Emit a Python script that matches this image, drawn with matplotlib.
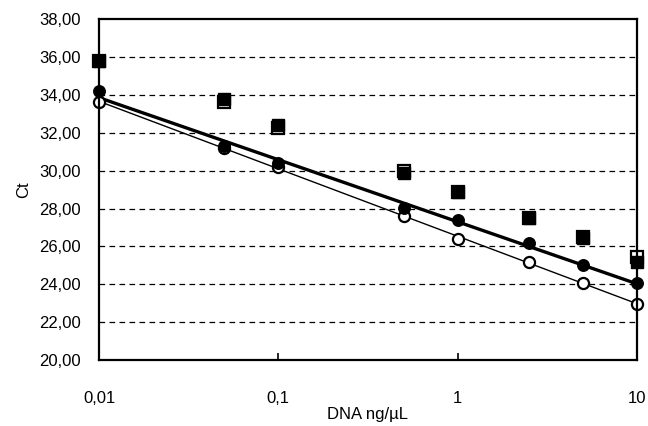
import numpy as np
import matplotlib
matplotlib.use("Agg")
import matplotlib.pyplot as plt
from matplotlib.ticker import FixedLocator, FuncFormatter

plt.rcParams['font.family'] = ['Liberation Sans', 'DejaVu Sans']

# DNA concentrations (ng/µL)
dna = [0.01, 0.05, 0.1, 0.5, 1, 2.5, 5, 10]

# Ct values per assay
ct_filled_sq = [35.8, 33.8, 32.4, 29.85, 28.85, 27.5, 26.45, 25.2]
ct_open_sq = [35.8, 33.65, 32.25, 30.0, 28.85, 27.5, 26.5, 25.45]
ct_filled_circ = [34.2, 31.3, 30.4, 28.05, 27.4, 26.2, 25.0, 24.05]
ct_open_circ = [33.6, 31.2, 30.2, 27.6, 26.4, 25.2, 24.05, 22.95]

y_ticks = [20, 22, 24, 26, 28, 30, 32, 34, 36, 38]
x_ticks = [0.01, 0.1, 1, 10]
x_tick_labels = ["0,01", "0,1", "1", "10"]

fig = plt.figure(figsize=(6.48, 4.26), dpi=100)
ax = fig.add_axes([0.1528, 0.155, 0.8302, 0.800])

ax.set_xscale('log')
ax.set_xlim(0.01, 10)
ax.set_ylim(20, 38)

# horizontal dashed grid
for yv in y_ticks[1:-1]:
    ax.axhline(yv, color='black', lw=0.9, ls=(0, (4.5, 3.5)), zorder=1)

# log-linear trend lines for the circle series
xs = np.log10(np.array(dna))
xfit = np.array([0.01, 10])
for ys, lw in ((ct_filled_circ, 2.4), (ct_open_circ, 1.0)):
    m, b = np.polyfit(xs, np.array(ys), 1)
    ax.plot(xfit, m * np.log10(xfit) + b, color='black', lw=lw, zorder=2,
            solid_capstyle='butt')

ax.plot(dna, ct_open_sq, ls='none', marker='s', ms=8.5, mfc='white',
        mec='black', mew=1.6, zorder=3, clip_on=False)
ax.plot(dna, ct_filled_sq, ls='none', marker='s', ms=8.5, mfc='black',
        mec='black', mew=1.0, zorder=4, clip_on=False)
ax.plot(dna, ct_open_circ, ls='none', marker='o', ms=8, mfc='white',
        mec='black', mew=1.6, zorder=5, clip_on=False)
ax.plot(dna, ct_filled_circ, ls='none', marker='o', ms=8.3, mfc='black',
        mec='black', mew=1.0, zorder=6, clip_on=False)

for s in ax.spines.values():
    s.set_linewidth(1.6)
    s.set_zorder(7)

ax.yaxis.set_major_locator(FixedLocator(y_ticks))
ax.yaxis.set_major_formatter(FuncFormatter(lambda v, p: f"{v:.2f}".replace('.', ',')))
ax.xaxis.set_major_locator(FixedLocator(x_ticks))
ax.xaxis.set_minor_locator(FixedLocator([]))
ax.set_xticklabels(x_tick_labels)

ax.tick_params(axis='y', length=0, pad=13, labelsize=12)
ax.tick_params(axis='x', direction='in', length=5, width=1.2, pad=22, labelsize=12)

ax.set_xlabel("DNA ng/µL", fontsize=12, labelpad=1)
ax.set_ylabel("Ct", fontsize=12, labelpad=6)

fig.savefig("out.png", dpi=100)
